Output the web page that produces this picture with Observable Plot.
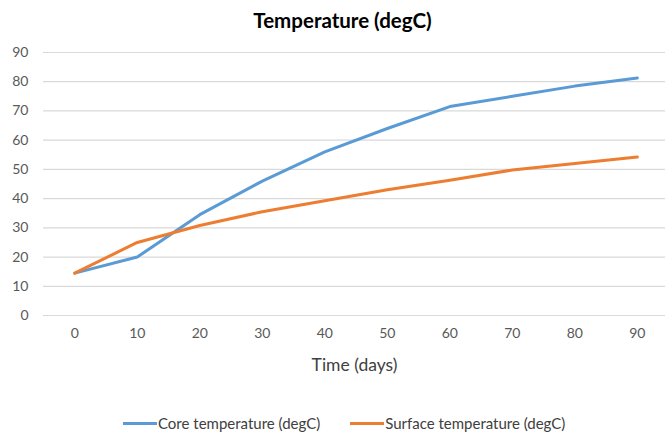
<!DOCTYPE html>
<html><head><meta charset="utf-8">
<script src="https://cdn.jsdelivr.net/npm/d3@7"></script>
<script src="https://cdn.jsdelivr.net/npm/@observablehq/plot@0.6"></script>
<style>
body{margin:0;background:#fff;font-family:Lato,"Open Sans",sans-serif;}
#title{height:40px;line-height:40px;text-align:center;font-size:20.5px;font-weight:bold;color:#000;padding-left:20px;}
#legend{display:flex;justify-content:flex-start;align-items:center;height:76px;font-size:15px;color:#404040;padding-left:123px;}
.sw{display:inline-block;width:34px;height:3px;margin-right:1px;}
.item{display:flex;align-items:center;margin-right:30px;}
</style></head>
<body>
<div id="title">Temperature (degC)</div>
<div id="chart"></div>
<div id="legend"></div>
<script>
const days = [0, 10, 20, 30, 40, 50, 60, 70, 80, 90];
const core = [14.5, 20, 34.5, 46, 56, 64, 71.5, 75, 78.5, 81.3];
const surface = [14.5, 25, 30.8, 35.5, 39.3, 43, 46.3, 49.8, 52, 54.2];
const seriesNames = ["Core temperature (degC)", "Surface temperature (degC)"];
const colors = ["#5b9bd5", "#ed7d31"];
const yTicks = [0, 10, 20, 30, 40, 50, 60, 70, 80, 90];

const data = [];
days.forEach((d, i) => {
  data.push({day: d, value: core[i], series: seriesNames[0]});
  data.push({day: d, value: surface[i], series: seriesNames[1]});
});

const plot = Plot.plot({
  width: 665,
  height: 345,
  marginTop: 12,
  marginBottom: 70,
  marginLeft: 43,
  marginRight: 0,
  style: {fontFamily: "Lato, 'Open Sans', sans-serif", fontSize: "14px", color: "#595959", background: "#fff"},
  x: {domain: [-5, 94.5], axis: null},
  y: {domain: [0, 90], axis: null},
  color: {domain: seriesNames, range: colors},
  marks: [
    Plot.gridY(yTicks, {stroke: "#d9d9d9", strokeOpacity: 1, strokeWidth: 1.2}),
    Plot.axisY(yTicks, {tickSize: 0, tickPadding: 15, fontSize: 14, fill: "#595959", label: null}),
    Plot.axisX(days, {tickSize: 0, tickPadding: 13, fontSize: 14, fill: "#595959", label: null}),
    Plot.line(data, {x: "day", y: "value", z: "series", stroke: "series", strokeWidth: 3, strokeLinejoin: "round", strokeLinecap: "round"}),
    Plot.text(["Time (days)"], {frameAnchor: "bottom", dy: 50, fontSize: 17.5, fill: "#404040", lineAnchor: "middle"})
  ]
});
document.getElementById("chart").appendChild(plot);

const leg = document.getElementById("legend");
seriesNames.forEach((n, i) => {
  const it = document.createElement("span");
  it.className = "item";
  it.innerHTML = `<span class="sw" style="background:${colors[i]}"></span>${n}`;
  leg.appendChild(it);
});
</script>
</body></html>
